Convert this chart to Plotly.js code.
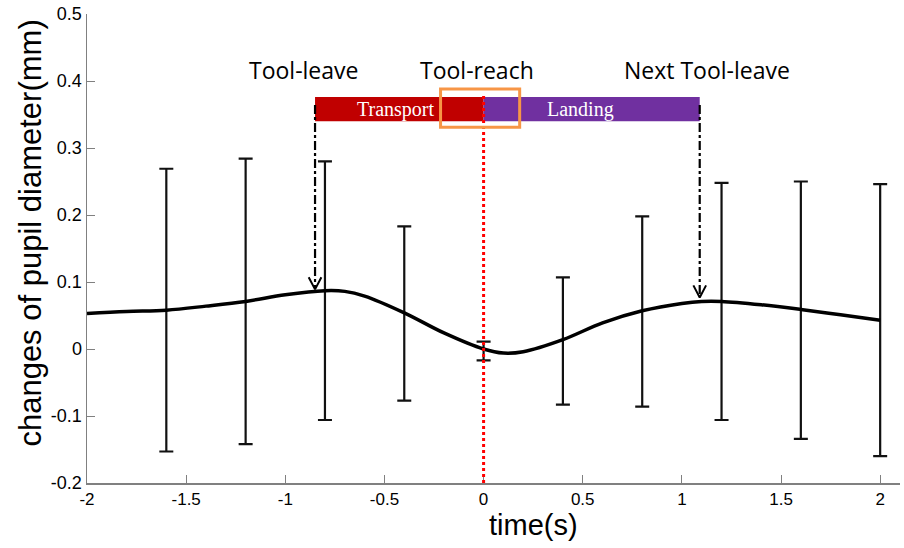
<!DOCTYPE html>
<html>
<head>
<meta charset="utf-8">
<script src="https://cdn.plot.ly/plotly-3.0.1.min.js"></script>
<style>html,body{margin:0;padding:0;background:#fff;}#chart{width:904px;height:548px;}</style>
</head>
<body>
<div id="chart"></div>
<script>
// Mean curve (time in s, change of pupil diameter in mm)
const curveTime = [-2, -1.8, -1.6, -1.4, -1.2, -1.0, -0.8, -0.7, -0.6, -0.4, -0.2, 0, 0.1, 0.2, 0.4, 0.6, 0.8, 1.0, 1.1, 1.2, 1.4, 1.6, 1.8, 2.0];
const curveValue = [0.053, 0.056, 0.058, 0.064, 0.071, 0.081, 0.087, 0.086, 0.079, 0.054, 0.024, 0.0, -0.006, -0.004, 0.014, 0.039, 0.057, 0.068, 0.071, 0.071, 0.066, 0.059, 0.051, 0.043];

// Error bars
const errTime = [-1.6, -1.2, -0.8, -0.4, 0, 0.4, 0.8, 1.2, 1.6, 2.0];
const errCenter = [0.058, 0.071, 0.087, 0.053, -0.003, 0.012, 0.056, 0.071, 0.058, 0.043];
const errSize = [0.211, 0.213, 0.193, 0.130, 0.014, 0.095, 0.142, 0.177, 0.192, 0.203];

// Events
const eventNames = ['Tool-leave', 'Tool-reach', 'Next Tool-leave'];
const eventTimes = [-0.85, 0, 1.09];
const eventLabelX = [-0.908, -0.035, 1.125];
const arrowTipY = [0.089, 0.077];

// Phases
const phaseNames = ['Transport', 'Landing'];
const phaseStart = [-0.85, 0];
const phaseEnd = [0, 1.09];
const phaseLabelX = [-0.445, 0.49];
const phaseColors = ['#C00000', '#7030A0'];
const phaseBottom = 0.340, phaseTop = 0.376;
const highlightBox = [-0.217, 0.182, 0.331, 0.388];

const xTicks = [-2, -1.5, -1, -0.5, 0, 0.5, 1, 1.5, 2];
const xTickText = ['-2', '-1.5', '-1', '-0.5', '0', '0.5', '1', '1.5', '2'];
const yTicks = [-0.2, -0.1, 0, 0.1, 0.2, 0.3, 0.4, 0.5];
const yTickText = ['-0.2', '-0.1', '0', '0.1', '0.2', '0.3', '0.4', '0.5'];
const xTitle = 'time(s)';
const yTitle = 'changes of pupil diameter(mm)';

const traces = [];
traces.push({
  x: errTime, y: errCenter, mode: 'markers', type: 'scatter',
  marker: {size: 1, color: 'rgba(0,0,0,0)'},
  error_y: {type: 'data', array: errSize, visible: true, color: '#111', thickness: 2.2, width: 7},
  hoverinfo: 'skip', showlegend: false
});
traces.push({
  x: curveTime, y: curveValue, mode: 'lines', type: 'scatter',
  line: {color: '#000', width: 3.5, shape: 'spline', smoothing: 1},
  showlegend: false
});
// arrowheads (open V) at the two tool-leave events
const headDx = 0.032, headDy = 0.018;
[0, 2].forEach((ei, k) => {
  const t = eventTimes[ei], tip = arrowTipY[k];
  traces.push({
    x: [t - headDx, t, t + headDx], y: [tip + headDy, tip, tip + headDy],
    mode: 'lines', type: 'scatter', line: {color: '#000', width: 2},
    showlegend: false, hoverinfo: 'skip'
  });
});

const shapes = [];
phaseNames.forEach((n, i) => {
  shapes.push({type: 'rect', xref: 'x', yref: 'y', x0: phaseStart[i], x1: phaseEnd[i], y0: phaseBottom, y1: phaseTop,
    fillcolor: phaseColors[i], line: {width: 0}, layer: 'above'});
});
// red dotted line at tool-reach
shapes.push({type: 'line', xref: 'x', yref: 'y', x0: eventTimes[1], x1: eventTimes[1], y0: -0.2, y1: phaseTop + 0.004,
  line: {color: '#FF0000', width: 3, dash: 'dot'}, layer: 'above'});
// orange highlight box
shapes.push({type: 'rect', xref: 'x', yref: 'y', x0: highlightBox[0], x1: highlightBox[1], y0: highlightBox[2], y1: highlightBox[3],
  line: {color: '#F79646', width: 3}, fillcolor: 'rgba(0,0,0,0)', layer: 'above'});
// dash-dot arrow shafts
[0, 2].forEach((ei, k) => {
  const t = eventTimes[ei];
  shapes.push({type: 'line', xref: 'x', yref: 'y', x0: t, x1: t, y0: phaseTop - 0.012, y1: arrowTipY[k] + 0.002,
    line: {color: '#000', width: 2.2, dash: 'dashdot'}, layer: 'above'});
});

const annotations = [];
eventNames.forEach((n, i) => {
  annotations.push({x: eventLabelX[i], y: 0.416, xref: 'x', yref: 'y', text: n, showarrow: false,
    font: {family: 'Open Sans, Noto Sans, sans-serif', size: 23, color: '#000'}});
});
phaseNames.forEach((n, i) => {
  annotations.push({x: phaseLabelX[i], y: (phaseBottom + phaseTop) / 2, xref: 'x', yref: 'y',
    text: n, showarrow: false, font: {family: 'Liberation Serif, Times New Roman, serif', size: 20, color: '#fff'}});
});
annotations.push({x: 0.549, y: -0.09, xref: 'paper', yref: 'paper', text: xTitle, showarrow: false,
  xanchor: 'center', yanchor: 'middle',
  font: {family: 'Liberation Sans, Arial, sans-serif', size: 29, color: '#000'}});
annotations.push({x: -0.070, y: 0.532, xref: 'paper', yref: 'paper', text: yTitle, showarrow: false,
  textangle: -90, xanchor: 'center', yanchor: 'middle',
  font: {family: 'Liberation Sans, Arial, sans-serif', size: 31, color: '#000'}});

const layout = {
  width: 904, height: 548,
  margin: {l: 87, r: 4, t: 14, b: 65},
  paper_bgcolor: '#fff', plot_bgcolor: '#fff',
  showlegend: false,
  font: {family: 'Liberation Sans, Arial, sans-serif', color: '#000'},
  xaxis: {
    range: [-2, 2.1], tickvals: xTicks, ticktext: xTickText,
    showgrid: false, zeroline: false, showline: true, linecolor: '#808080', linewidth: 1.5,
    ticks: 'inside', ticklen: 8, tickcolor: '#808080', tickwidth: 1,
    tickfont: {family: 'Liberation Sans, Arial, sans-serif', size: 17, color: '#000'}
  },
  yaxis: {
    range: [-0.2, 0.5], tickvals: yTicks, ticktext: yTickText,
    showgrid: false, zeroline: false, showline: true, linecolor: '#808080', linewidth: 1.5,
    ticks: 'inside', ticklen: 8, tickcolor: '#808080', tickwidth: 1,
    tickfont: {family: 'Liberation Sans, Arial, sans-serif', size: 18, color: '#000'}
  },
  shapes: shapes,
  annotations: annotations
};

Plotly.newPlot('chart', traces, layout, {displayModeBar: false, staticPlot: true});
</script>
</body>
</html>
